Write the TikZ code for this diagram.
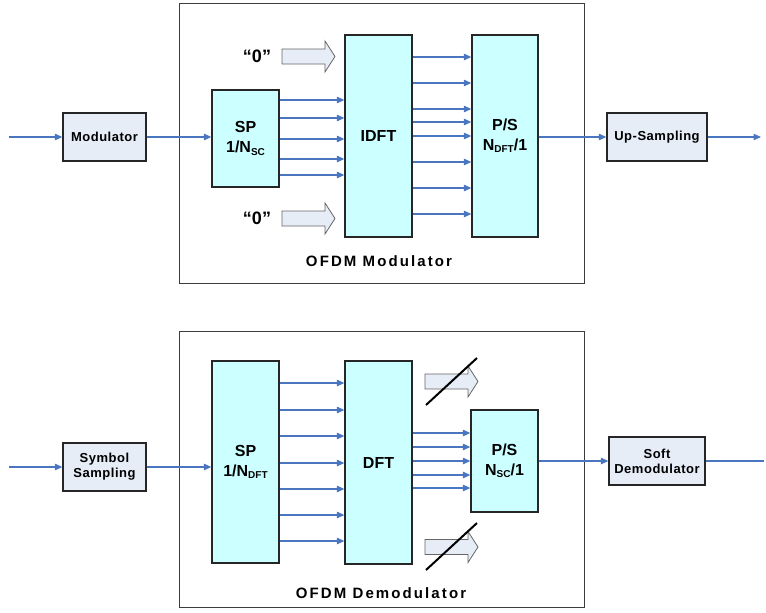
\documentclass[tikz,border=0pt]{standalone}
\usepackage{fontspec}
\setmainfont{Liberation Sans}
\usetikzlibrary{arrows.meta}
\definecolor{flowblue}{HTML}{4A76C0}
\definecolor{blockcyan}{HTML}{CCFFFF}
\definecolor{paleblue}{HTML}{E6EDF7}
\definecolor{edgegray}{HTML}{262626}
\newcommand\lowsub[1]{\raisebox{-0.25ex}{\fontsize{10}{10}\selectfont #1}}

\begin{document}
\begin{tikzpicture}[x=1pt,y=-1pt,
  stage/.style={draw=edgegray, line width=1.3pt, fill=blockcyan, inner sep=0pt, align=center,
                font=\fontsize{16}{20}\selectfont\bfseries},
  unit/.style={draw=edgegray, line width=1.3pt, fill=paleblue, inner sep=0pt, align=center,
               font=\fontsize{13}{15}\selectfont\bfseries\addfontfeature{LetterSpace=4}},
  frame/.style={draw=edgegray!90, line width=0.9pt, inner sep=0pt},
  flow/.style={draw=flowblue, line width=1.1pt, -{Triangle[length=7.5pt,width=6.5pt]}},
  flowplain/.style={draw=flowblue, line width=1.1pt},
  fat/.style={draw=gray!80!black, fill=paleblue, line width=0.8pt},
  strike/.style={draw=black, line width=2pt},
  caption/.style={font=\fontsize{15}{18}\selectfont\bfseries\addfontfeature{LetterSpace=14}},
  zero/.style={font=\fontsize{18}{20}\selectfont\bfseries},
  pics/fatarrow/.style={code={
    \draw[fat] (0,-7.5) -- (43,-7.5) -- (43,-15.5) -- (53,0) -- (43,15.5) -- (43,7.5) -- (0,7.5) -- cycle;}}
]
\useasboundingbox (0,0) rectangle (766,613);

% ---------- transmitter ----------
\node[frame, minimum width=405pt, minimum height=280pt] (modframe) at (381.5,143) {};
\node[caption] (modcap) at (379,261) {OFDM Modulator};

\node[unit, minimum width=83pt, minimum height=48pt] (mod) at (104.5,137) {Modulator};
\node[stage, minimum width=67pt, minimum height=97pt] (sp1) at (245.5,138.5) {SP\\1/N\lowsub{SC}};
\node[stage, minimum width=67pt, minimum height=202pt] (idft) at (378.5,136) {IDFT};
\node[stage, minimum width=66pt, minimum height=202pt] (ps1) at (505,136) {P/S\\N\lowsub{DFT}/1};
\node[unit, minimum width=100pt, minimum height=48pt] (up) at (657,137) {Up-Sampling};

\coordinate (in1) at (9,137);
\coordinate (out1) at (761,137);
\draw[flow] (in1) -- (mod);
\draw[flow] (mod.east) -- (sp1.west |- mod.east);
\draw[flow] (ps1.east |- up.west) -- (up.west);
\draw[flow] (up.east) -- (out1);

\foreach \y in {100,118,139,159,175}{
  \coordinate (r) at (0,\y);
  \draw[flow] (sp1.east |- r) -- (idft.west |- r);
}
\foreach \y in {57,83,109,122,136,162,188,214}{
  \coordinate (r) at (0,\y);
  \draw[flow] (idft.east |- r) -- (ps1.west |- r);
}

% zero-padding inputs
\pic at (282,56.5) {fatarrow};
\pic at (282,218.5) {fatarrow};
\node[zero] (zhi) at (257,56) {“0”};
\node[zero] (zlo) at (257,218) {“0”};

% ---------- receiver ----------
\node[frame, minimum width=405pt, minimum height=276pt] (demframe) at (381.5,469) {};
\node[caption] (demcap) at (381,593) {OFDM Demodulator};

\node[unit, minimum width=83pt, minimum height=48pt] (ss) at (104.5,467) {Symbol\\Sampling};
\node[stage, minimum width=67pt, minimum height=202pt] (sp2) at (245.5,462) {SP\\1/N\lowsub{DFT}};
\node[stage, minimum width=67pt, minimum height=203pt] (dft) at (378.5,462.5) {DFT};
\node[stage, minimum width=67pt, minimum height=102pt] (ps2) at (504.5,461) {P/S\\N\lowsub{SC}/1};
\node[unit, minimum width=96pt, minimum height=48pt] (soft) at (657,461) {Soft\\Demodulator};

\coordinate (in2) at (9,467);
\coordinate (out2) at (764,461);
\draw[flow] (in2) -- (ss);
\draw[flow] (ss.east) -- (sp2.west |- ss.east);
\draw[flow] (ps2.east) -- (soft.west |- ps2.east);
\draw[flowplain] (soft.east) -- (out2);

\foreach \y in {383,410,436,463,489,515,541}{
  \coordinate (r) at (0,\y);
  \draw[flow] (sp2.east |- r) -- (dft.west |- r);
}
\foreach \y in {433,447,461,475,488}{
  \coordinate (r) at (0,\y);
  \draw[flow] (dft.east |- r) -- (ps2.west |- r);
}

% discarded carriers
\pic at (425,381.5) {fatarrow};
\pic at (425,547) {fatarrow};
\coordinate (s1a) at (426,405); \coordinate (s1b) at (477,358);
\coordinate (s2a) at (426,570); \coordinate (s2b) at (477,523);
\draw[strike] (s1a) -- (s1b);
\draw[strike] (s2a) -- (s2b);
\end{tikzpicture}
\end{document}
